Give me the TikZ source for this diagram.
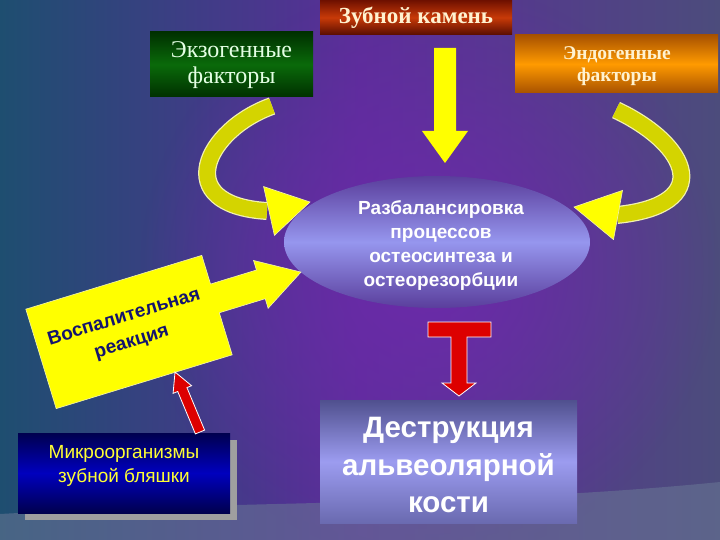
\documentclass[tikz,border=0pt]{standalone}
\usepackage{fontspec}
\setmainfont{Liberation Serif}
\setsansfont{Liberation Sans}
\usetikzlibrary{fadings,shapes.geometric}
\definecolor{bgL}{HTML}{1E4E70}
\definecolor{bgM}{HTML}{5A2E98}
\definecolor{bgR}{HTML}{4C4C7C}
\definecolor{bgP}{HTML}{6C2AAA}
\definecolor{bgB}{HTML}{6A7896}
\definecolor{kamT}{HTML}{6E1000}
\definecolor{kamM}{HTML}{C83A08}
\definecolor{exoE}{HTML}{003000}
\definecolor{exoM}{HTML}{0A6A0A}
\definecolor{endT}{HTML}{A85200}
\definecolor{endM}{HTML}{FF9A00}
\definecolor{mikE}{HTML}{00004E}
\definecolor{mikM}{HTML}{0000BE}
\definecolor{ellE}{HTML}{5A3E9C}
\definecolor{ellM}{HTML}{9696EE}
\definecolor{desT}{HTML}{50508E}
\definecolor{desM}{HTML}{9C9CF0}
\definecolor{desB}{HTML}{6A6AB0}
\definecolor{bandF}{HTML}{D4D400}
\definecolor{bandE}{HTML}{F2F2B0}
\definecolor{yel}{HTML}{FFFF00}
\definecolor{redA}{HTML}{DD0000}
\definecolor{navy}{HTML}{14146E}
\definecolor{mint}{HTML}{E4FFE4}
\definecolor{cream}{HTML}{FFF2D0}
\definecolor{mikT}{HTML}{FFFF33}
\tikzfading[name=glowfade, inner color=transparent!0, outer color=transparent!100]
\tikzset{
  boxnode/.style={inner sep=0pt, outer sep=0pt},
  bandout/.style={line width=18pt, draw=bandE},
  bandin/.style={line width=15.5pt, draw=bandF},
  yhead/.style={fill=yel, draw=bandE, line width=0.6pt},
  redarrow/.style={fill=redA, draw=white, line width=0.8pt},
  serifbox/.style={font=\rmfamily, align=center},
}
\begin{document}
\begin{tikzpicture}[x=1pt,y=-1pt]
\useasboundingbox (0,0) rectangle (720,540);
% background
\shade[left color=bgL, right color=bgR, middle color=bgM] (0,0) rectangle (720,540);
\fill[bgP, path fading=glowfade] (430,270) circle (290);
\fill[bgB, opacity=0.55] (0,514) .. controls (250,500) and (480,506) .. (720,482) -- (720,540) -- (0,540) -- cycle;

% top boxes
\node[boxnode, minimum width=192pt, minimum height=35pt, top color=kamT, bottom color=kamT!80!black, middle color=kamM] (kamen) at (416,17.5) {};
\node[serifbox, text=cream, font=\rmfamily\bfseries\fontsize{23}{24}\selectfont] (kamenT) at (416,18) {Зубной камень};

\node[boxnode, minimum width=163pt, minimum height=65pt, top color=exoE, bottom color=exoE, middle color=exoM] (exo) at (231.5,64.5) {};
\node[serifbox, text=mint, font=\rmfamily\fontsize{24}{26}\selectfont] (exoT) at (231.5,65) {Экзогенные\\факторы};

\node[boxnode, minimum width=203pt, minimum height=58pt, top color=endT, bottom color=endT, middle color=endM] (endo) at (616.5,64) {};
\node[serifbox, text=cream, font=\rmfamily\bfseries\fontsize{19.5}{22}\selectfont] (endoT) at (617,66) {Эндогенные\\факторы};

% down arrow
\fill[yel] (434,48) -- (456,48) -- (456,131) -- (468,131) -- (445,163) -- (422,131) -- (434,131) -- cycle;

% ellipse
\node[ellipse, boxnode, minimum width=306pt, minimum height=132pt, top color=ellE, bottom color=ellE, middle color=ellM] (ell) at (437,242) {};
\node[align=center, text=white, font=\sffamily\bfseries\fontsize{19}{24}\selectfont] (ellT) at (441,246) {Разбалансировка\\процессов\\остеосинтеза и\\остеорезорбции};

% left curved arrow
\draw[bandout] (272,106) .. controls (205,130) and (170,205) .. (267,211);
\draw[bandin] (272,106) .. controls (205,130) and (170,205) .. (267,211);
\filldraw[yhead] (263.6,186.6) -- (310,202) -- (274.4,235.4) -- cycle;

% right curved arrow
\draw[bandout] (616,110) .. controls (690,145) and (715,205) .. (617,215);
\draw[bandin] (616,110) .. controls (690,145) and (715,205) .. (617,215);
\filldraw[yhead] (622.5,190.4) -- (574,207) -- (613.5,239.6) -- cycle;

% inflammation arrow
\begin{scope}[shift={(129,332)}, rotate=17]
\filldraw[fill=yel, draw=bandE, line width=0.6pt] (-92,-52) -- (92,-52) -- (92,-22) -- (140,-22) -- (140,-32) -- (182,-7) -- (140,18) -- (140,8) -- (92,8) -- (92,52) -- (-92,52) -- cycle;
\end{scope}
\node[rotate=17, align=center, text=navy, font=\sffamily\bfseries\fontsize{19}{26}\selectfont] (vosT) at (128,330) {Воспалительная\\реакция};

% microorganisms box
\fill[gray!75] (25,440) rectangle (237,520);
\node[boxnode, minimum width=212pt, minimum height=80pt, top color=mikE, bottom color=mikE, middle color=mikM] (mikro) at (124,473) {};
\node[align=center, text=mikT, font=\sffamily\fontsize{19}{24}\selectfont] (mikroT) at (124,466) {Микроорганизмы\\зубной бляшки};

% red arrow
\begin{scope}[shift={(200,432)}, rotate=112.6]
\filldraw[redarrow] (0,-5) -- (46,-5) -- (46,-10) -- (65,0) -- (46,10) -- (46,5) -- (0,5) -- cycle;
\end{scope}

% T arrow
\filldraw[redarrow] (428,322) -- (491,322) -- (491,337) -- (467,337) -- (467,383) -- (476,383) -- (459,396) -- (442,383) -- (451,383) -- (451,337) -- (428,337) -- cycle;

% destruction box
\node[boxnode, minimum width=257pt, minimum height=123pt, top color=desT, bottom color=desB, middle color=desM] (des) at (448.5,461.5) {};
\node[align=center, text=white, font=\sffamily\bfseries\fontsize{29.5}{37.5}\selectfont] (desT) at (448.5,465) {Деструкция\\альвеолярной\\кости};
\end{tikzpicture}
\end{document}
